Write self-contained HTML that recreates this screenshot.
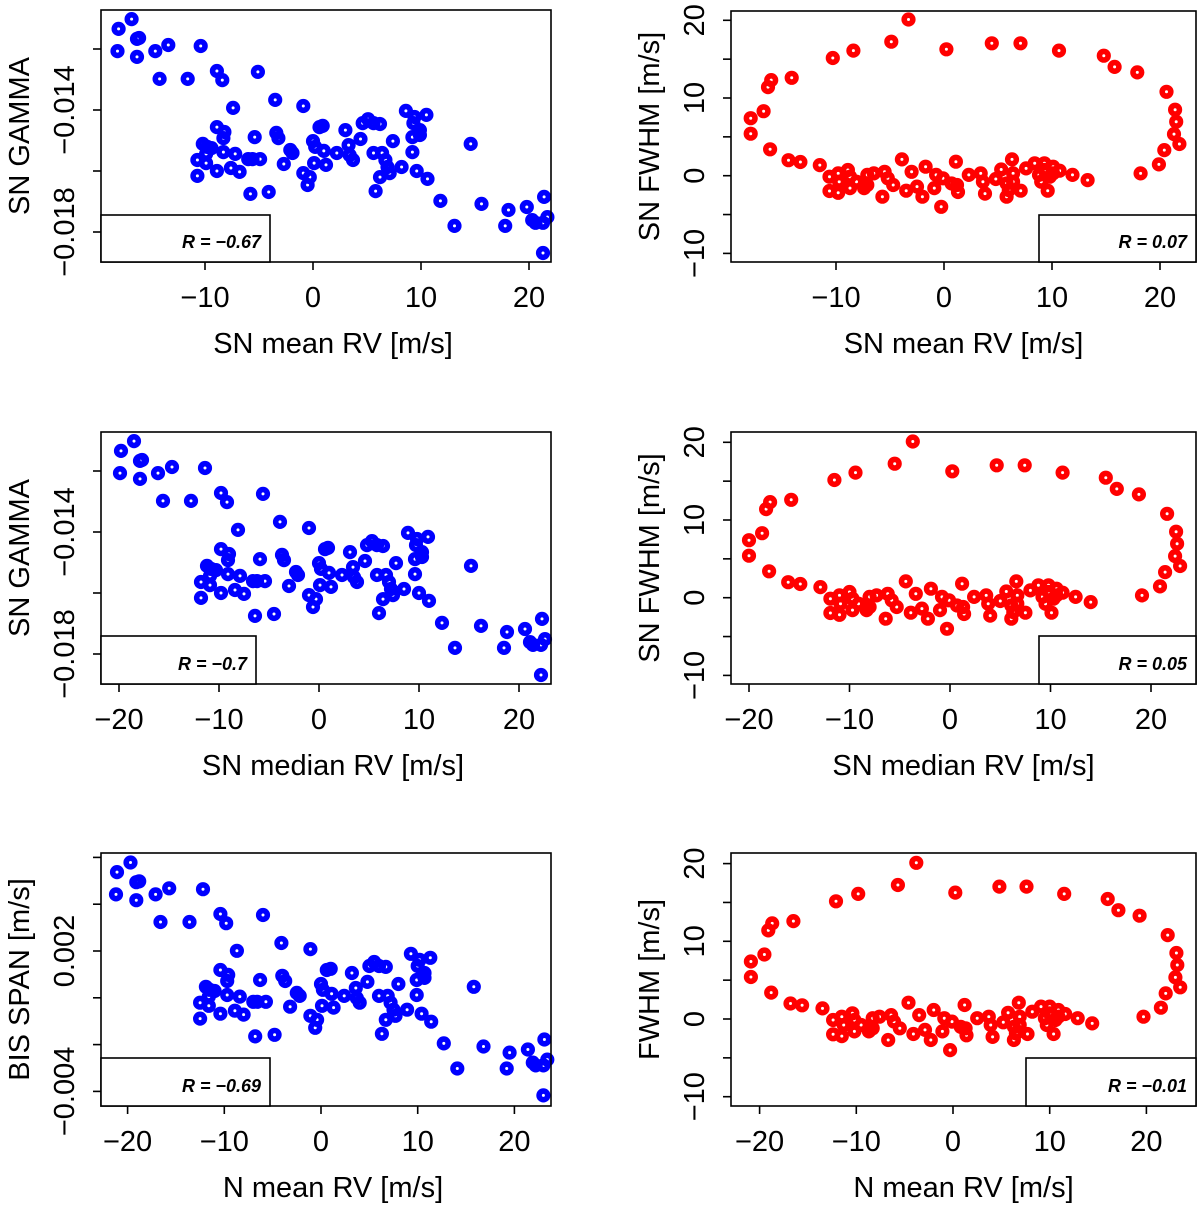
<!DOCTYPE html>
<html><head><meta charset="utf-8">
<style>
html,body{margin:0;padding:0;background:#fff;}
svg{display:block;font-family:"Liberation Sans",Arial,sans-serif;}
</style></head>
<body>
<svg id="fig" width="1200" height="1206" viewBox="0 0 1200 1206" xmlns="http://www.w3.org/2000/svg"></svg>
<script>
// ---- data (left panels: gamma in units of 1e-3, BIS span in 1e-3) ----
const p1x=[-18.0,-16.8,-16.3,-16.1,-18.1,-16.3,-14.6,-13.4,-10.4,-14.2,-11.6,-8.9,-8.4,-5.1,-3.5,-0.9,-7.4,-8.9,-8.2,-8.3,-10.2,-9.8,-5.4,-3.4,-3.2,-2.1,-1.9,0,0.2,0.6,-9.4,-8.3,-7.2,-9.9,-10.7,-9.9,-8.9,-7.6,-6.8,-6.0,-5.6,-4.9,-2.7,-0.9,-0.5,0.1,-10.7,-5.8,-4.1,0.9,1.0,1.2,-0.3,3.0,4.4,3.3,2.2,3.4,3.7,4.6,5.1,5.6,6.2,5.6,6.4,6.7,6.9,7.1,6.2,5.8,7.4,8.2,8.6,9.4,10.5,9.3,9.9,9.9,9.2,9.2,9.6,10.6,14.6,11.8,13.1,15.6,18.1,17.8,19.8,20.3,20.6,21.3,21.7,21.4,21.3];
const p1y=[-11.34,-11.02,-11.67,-11.64,-12.07,-12.26,-12.07,-11.87,-11.90,-12.98,-12.98,-12.72,-13.02,-12.75,-13.67,-13.87,-13.93,-14.56,-14.72,-14.92,-15.11,-15.21,-14.89,-14.75,-14.92,-15.31,-15.41,-15.02,-15.21,-14.56,-15.25,-15.38,-15.44,-15.44,-15.64,-15.74,-16.0,-15.90,-16.03,-15.61,-15.61,-15.61,-15.77,-16.07,-16.46,-15.74,-16.16,-16.75,-16.69,-14.52,-15.34,-15.80,-16.20,-14.66,-14.95,-15.15,-15.41,-15.48,-15.64,-14.43,-14.30,-14.43,-14.46,-15.41,-15.41,-15.64,-15.87,-16.07,-16.20,-16.66,-15.02,-15.87,-14.03,-14.23,-14.16,-14.43,-14.66,-14.82,-14.89,-15.38,-16.0,-16.26,-15.11,-16.98,-17.80,-17.08,-17.28,-17.80,-17.18,-17.61,-17.70,-17.70,-17.51,-16.85,-18.69];
const p3x=[-19.8,-18.5,-17.9,-17.7,-19.9,-17.9,-16.1,-14.7,-11.4,-15.6,-12.8,-9.8,-9.2,-5.6,-3.9,-1.0,-8.1,-9.8,-9.0,-9.1,-11.2,-10.8,-5.9,-3.7,-3.5,-2.3,-2.1,0,0.2,0.6,-10.3,-9.1,-7.9,-10.9,-11.8,-10.9,-9.8,-8.4,-7.5,-6.6,-6.2,-5.4,-3.0,-1.0,-0.6,0.1,-11.8,-6.4,-4.5,0.9,1.0,1.2,-0.3,3.1,4.6,3.4,2.3,3.5,3.8,4.8,5.3,5.8,6.4,5.8,6.7,7.0,7.2,7.4,6.4,6.0,7.7,8.5,8.9,9.8,10.9,9.7,10.3,10.3,9.6,9.6,10.0,11.0,15.2,12.3,13.6,16.2,18.8,18.5,20.6,21.1,21.4,22.2,22.6,22.3,22.2];
const p3y=[-11.34,-11.02,-11.67,-11.64,-12.07,-12.26,-12.07,-11.87,-11.90,-12.98,-12.98,-12.72,-13.02,-12.75,-13.67,-13.87,-13.93,-14.56,-14.72,-14.92,-15.11,-15.21,-14.89,-14.75,-14.92,-15.31,-15.41,-15.02,-15.21,-14.56,-15.25,-15.38,-15.44,-15.44,-15.64,-15.74,-16.0,-15.90,-16.03,-15.61,-15.61,-15.61,-15.77,-16.07,-16.46,-15.74,-16.16,-16.75,-16.69,-14.52,-15.34,-15.80,-16.20,-14.66,-14.95,-15.15,-15.41,-15.48,-15.64,-14.43,-14.30,-14.43,-14.46,-15.41,-15.41,-15.64,-15.87,-16.07,-16.20,-16.66,-15.02,-15.87,-14.03,-14.23,-14.16,-14.43,-14.66,-14.82,-14.89,-15.38,-16.0,-16.26,-15.11,-16.98,-17.80,-17.08,-17.28,-17.80,-17.18,-17.61,-17.70,-17.70,-17.51,-16.85,-18.69];
const p5x=[-21.1,-19.7,-19.1,-18.8,-21.2,-19.1,-17.1,-15.7,-12.2,-16.6,-13.6,-10.4,-9.8,-6.0,-4.1,-1.1,-8.7,-10.4,-9.6,-9.7,-11.9,-11.5,-6.3,-4.0,-3.7,-2.5,-2.2,0,0.2,0.6,-11.0,-9.7,-8.4,-11.6,-12.5,-11.6,-10.4,-8.9,-8.0,-7.0,-6.6,-5.7,-3.2,-1.1,-0.6,0.1,-12.5,-6.8,-4.8,1.0,1.1,1.3,-0.4,3.2,4.8,3.6,2.4,3.7,4.0,5.0,5.5,6.0,6.7,6.0,6.9,7.2,7.5,7.7,6.7,6.3,8.0,8.9,9.3,10.2,11.3,10.0,10.7,10.7,9.9,9.9,10.4,11.4,15.8,12.7,14.1,16.8,19.5,19.2,21.4,21.9,22.2,23.0,23.4,23.1,23.0];
const p5y=[5.37,5.78,4.94,4.98,4.42,4.17,4.42,4.68,4.64,3.24,3.24,3.58,3.19,3.54,2.34,2.08,2.01,1.19,0.98,0.72,0.47,0.34,0.76,0.94,0.72,0.21,0.08,0.59,0.34,1.19,0.29,0.12,0.05,0.05,-0.21,-0.34,-0.68,-0.55,-0.72,-0.17,-0.17,-0.17,-0.38,-0.77,-1.28,-0.34,-0.89,-1.65,-1.58,1.24,0.17,-0.42,-0.94,1.06,0.68,0.42,0.08,-0.01,-0.21,1.36,1.53,1.36,1.32,0.08,0.08,-0.21,-0.51,-0.77,-0.94,-1.54,0.59,-0.51,1.88,1.62,1.71,1.36,1.06,0.85,0.76,0.12,-0.68,-1.02,0.47,-1.95,-3.02,-2.08,-2.34,-3.02,-2.21,-2.77,-2.89,-2.89,-2.64,-1.78,-4.17];
// ---- data (right panels: FWHM in m/s) ----
const p2x=[-3.29,-4.88,-8.39,-10.3,0.22,4.43,7.08,10.65,14.8,15.8,17.9,20.6,21.4,21.5,21.3,21.8,20.4,19.9,18.2,-14.1,-16.0,-16.3,-16.7,-17.9,-17.9,-16.1,-14.4,-13.3,-11.5,-3.9,-1.7,1.1,6.3,7.6,8.4,9.3,10.1,10.7,11.9,13.3,-10.6,-9.8,-8.9,-8.7,-9.7,-8.1,-7.1,-6.5,-5.5,-5.2,-4.7,-3.0,-10.6,-9.8,-8.7,-7.4,-7.1,-5.7,-3.5,-2.5,-2.0,-0.73,-0.1,-0.9,-0.26,0.7,1.2,1.3,2.3,3.4,3.6,3.8,4.8,5.3,5.8,6.4,6.4,5.8,6.0,7.1,8.8,9.0,9.3,9.8,9.6,10.1];
const p2y=[20.1,17.25,16.1,15.15,16.27,17.04,17.04,16.1,15.45,14.0,13.3,10.8,8.5,6.95,5.36,4.08,3.3,1.46,0.3,12.6,12.3,11.4,8.3,7.4,5.4,3.4,2.0,1.76,1.37,2.1,1.16,1.8,2.1,0.94,1.6,1.6,1.16,0.64,0.1,-0.56,-0.13,0.3,0.73,-0.13,-0.77,-0.77,0.1,0.3,0.5,-0.34,-1.2,0.5,-1.97,-2.2,-1.6,-1.6,-1.2,-2.7,-1.93,-1.4,-2.7,0.1,-0.34,-1.6,-4.0,-1.0,-1.2,-2.1,0.1,0.3,-0.77,-2.3,-0.43,0.8,-1.0,0.3,-0.77,-2.7,-1.85,-1.93,0.1,-0.77,0.73,-0.13,-1.93,0.3];
const p4x=[-3.7,-5.5,-9.4,-11.5,0.23,4.65,7.43,11.2,15.5,16.6,18.8,21.6,22.5,22.6,22.4,22.9,21.4,20.9,19.1,-15.8,-17.9,-18.3,-18.7,-20.0,-20.0,-18.0,-16.1,-14.9,-12.9,-4.4,-1.9,1.2,6.6,8.0,8.8,9.8,10.6,11.2,12.5,14.0,-11.9,-11.0,-10.0,-9.7,-10.9,-9.1,-8.0,-7.3,-6.2,-5.8,-5.3,-3.4,-11.9,-11.0,-9.7,-8.3,-8.0,-6.4,-3.9,-2.8,-2.2,-0.8,-0.1,-1.0,-0.3,0.7,1.3,1.4,2.4,3.6,3.8,4.0,5.0,5.6,6.1,6.7,6.7,6.1,6.3,7.5,9.2,9.5,9.8,10.3,10.1,10.6];
const p4y=[20.1,17.25,16.1,15.15,16.27,17.04,17.04,16.1,15.45,14.0,13.3,10.8,8.5,6.95,5.36,4.08,3.3,1.46,0.3,12.6,12.3,11.4,8.3,7.4,5.4,3.4,2.0,1.76,1.37,2.1,1.16,1.8,2.1,0.94,1.6,1.6,1.16,0.64,0.1,-0.56,-0.13,0.3,0.73,-0.13,-0.77,-0.77,0.1,0.3,0.5,-0.34,-1.2,0.5,-1.97,-2.2,-1.6,-1.6,-1.2,-2.7,-1.93,-1.4,-2.7,0.1,-0.34,-1.6,-4.0,-1.0,-1.2,-2.1,0.1,0.3,-0.77,-2.3,-0.43,0.8,-1.0,0.3,-0.77,-2.7,-1.85,-1.93,0.1,-0.77,0.73,-0.13,-1.93,0.3];
const p6x=[-3.8,-5.7,-9.8,-12.1,0.24,4.8,7.6,11.5,16.0,17.1,19.3,22.2,23.1,23.2,23.0,23.5,22.0,21.5,19.7,-16.5,-18.7,-19.1,-19.5,-20.9,-20.9,-18.8,-16.8,-15.6,-13.5,-4.6,-2.0,1.2,6.8,8.2,9.1,10.0,10.9,11.6,12.9,14.4,-12.4,-11.5,-10.4,-10.2,-11.3,-9.5,-8.3,-7.6,-6.4,-6.1,-5.5,-3.5,-12.4,-11.5,-10.2,-8.7,-8.3,-6.7,-4.1,-2.9,-2.3,-0.9,-0.1,-1.1,-0.3,0.8,1.3,1.4,2.5,3.7,3.9,4.1,5.2,5.7,6.3,6.9,6.9,6.3,6.5,7.7,9.5,9.7,10.0,10.6,10.4,10.9];
const p6y=[20.1,17.25,16.1,15.15,16.27,17.04,17.04,16.1,15.45,14.0,13.3,10.8,8.5,6.95,5.36,4.08,3.3,1.46,0.3,12.6,12.3,11.4,8.3,7.4,5.4,3.4,2.0,1.76,1.37,2.1,1.16,1.8,2.1,0.94,1.6,1.6,1.16,0.64,0.1,-0.56,-0.13,0.3,0.73,-0.13,-0.77,-0.77,0.1,0.3,0.5,-0.34,-1.2,0.5,-1.97,-2.2,-1.6,-1.6,-1.2,-2.7,-1.93,-1.4,-2.7,0.1,-0.34,-1.6,-4.0,-1.0,-1.2,-2.1,0.1,0.3,-0.77,-2.3,-0.43,0.8,-1.0,0.3,-0.77,-2.7,-1.85,-1.93,0.1,-0.77,0.73,-0.13,-1.93,0.3];
// tick values and labels
const xTicksA=[-10,0,10,20];
const xTicksB=[-20,-10,0,10,20];
const gammaTicks=[-12,-14,-16,-18];
const gammaLabels=["","−0.014","","−0.018"];
const bisTicks=[6,4,2,0,-2,-4];
const bisLabels=["","","0.002","","","−0.004"];
const fwhmTicks=[20,15,10,5,0,-5,-10];
const fwhmLabels=["20","","10","","0","","−10"];
const rValues=["−0.67","0.07","−0.7","0.05","−0.69","−0.01"];
const xTitles=["SN mean RV [m/s]","SN mean RV [m/s]","SN median RV [m/s]","SN median RV [m/s]","N mean RV [m/s]","N mean RV [m/s]"];
const yTitles=["SN GAMMA","SN FWHM [m/s]","SN GAMMA","SN FWHM [m/s]","BIS SPAN [m/s]","FWHM [m/s]"];

const NS="http://www.w3.org/2000/svg";
const svg=document.getElementById('fig');
function mk(tag,attrs,parent){const e=document.createElementNS(NS,tag);for(const k in attrs)e.setAttribute(k,attrs[k]);(parent||svg).appendChild(e);return e;}

const panels=[
 {L:101,R:551,T:10,B:262,x0:313,xs:10.8,yv:-14,yp:110,ys:30.5,xt:xTicksA,yt:gammaTicks,yl:gammaLabels,xd:p1x,yd:p1y,col:"#0000ff",legL:101,legT:215,legR:270},
 {L:731,R:1196,T:11,B:262,x0:944,xs:10.8,yv:0,yp:175.7,ys:7.77,xt:xTicksA,yt:fwhmTicks,yl:fwhmLabels,xd:p2x,yd:p2y,col:"#ff0000",legL:1039,legT:215,legR:1196},
 {L:101,R:551,T:432,B:684,x0:319,xs:10.0,yv:-14,yp:532,ys:30.5,xt:xTicksB,yt:gammaTicks,yl:gammaLabels,xd:p3x,yd:p3y,col:"#0000ff",legL:101,legT:636,legR:256},
 {L:731,R:1196,T:432,B:684,x0:950,xs:10.05,yv:0,yp:597.7,ys:7.77,xt:xTicksB,yt:fwhmTicks,yl:fwhmLabels,xd:p4x,yd:p4y,col:"#ff0000",legL:1039,legT:636,legR:1196},
 {L:101,R:551,T:853,B:1106,x0:321,xs:9.67,yv:2,yp:951,ys:23.4,xt:xTicksB,yt:bisTicks,yl:bisLabels,xd:p5x,yd:p5y,col:"#0000ff",legL:101,legT:1058,legR:270},
 {L:731,R:1196,T:853,B:1106,x0:953,xs:9.67,yv:0,yp:1019,ys:7.77,xt:xTicksB,yt:fwhmTicks,yl:fwhmLabels,xd:p6x,yd:p6y,col:"#ff0000",legL:1026,legT:1058,legR:1196}
];

panels.forEach((p,i)=>{
  const g=mk('g',{});
  
  
  const X=v=>p.x0+v*p.xs;
  const Y=v=>p.yp-(v-p.yv)*p.ys;
  const pg=mk('g',{},g);
  
  
  for(let k=0;k<p.xd.length;k++){
    const c=mk('circle',{cx:X(p.xd[k]).toFixed(1),cy:Y(p.yd[k]).toFixed(1),r:4.3,fill:'none',stroke:p.col,'stroke-width':5.6},pg);
    
    
  }
  const box=mk('rect',{x:p.L,y:p.T,width:p.R-p.L,height:p.B-p.T,fill:'none',stroke:'#000','stroke-width':1.6},g);
  
  
  p.xt.forEach(t=>{
    const x=X(t);
    mk('line',{x1:x,y1:p.B,x2:x,y2:p.B+8,stroke:'#000','stroke-width':1.6},g);
    const tx=mk('text',{x:x,y:p.B+45,'text-anchor':'middle','font-size':29,fill:'#000'},g);
    tx.textContent=t<0?('−'+Math.abs(t)):String(t);
    
    
  });
  p.yt.forEach((t,j)=>{
    const y=Y(t);
    mk('line',{x1:p.L-8,y1:y,x2:p.L,y2:y,stroke:'#000','stroke-width':1.6},g);
    if(p.yl[j]){
      const bx=p.L-27;
      const ty=mk('text',{x:bx,y:y,'text-anchor':'middle','font-size':29,fill:'#000',transform:`rotate(-90 ${bx} ${y})`},g);
      ty.textContent=p.yl[j];
      
      
    }
  });
  const xt=mk('text',{x:(p.L+p.R)/2+(i%2?0:7),y:p.B+91,'text-anchor':'middle','font-size':29,fill:'#000'},g);
  xt.textContent=xTitles[i];
  
  
  const yx=p.L-72, ym=(p.T+p.B)/2;
  const yt=mk('text',{x:yx,y:ym,'text-anchor':'middle','font-size':29,fill:'#000',transform:`rotate(-90 ${yx} ${ym})`},g);
  yt.textContent=yTitles[i];
  
  
  const lg=mk('g',{},g);
  
  
  mk('rect',{x:p.legL,y:p.legT,width:p.legR-p.legL,height:p.B-p.legT,fill:'#fff',stroke:'#000','stroke-width':1.6},lg);
  const lt=mk('text',{x:p.legR-9,y:p.B-14,'text-anchor':'end','font-size':18,'font-weight':'bold','font-style':'italic',fill:'#000'},lg);
  lt.textContent='R = '+rValues[i];
  
  
});
</script>
</body></html>
